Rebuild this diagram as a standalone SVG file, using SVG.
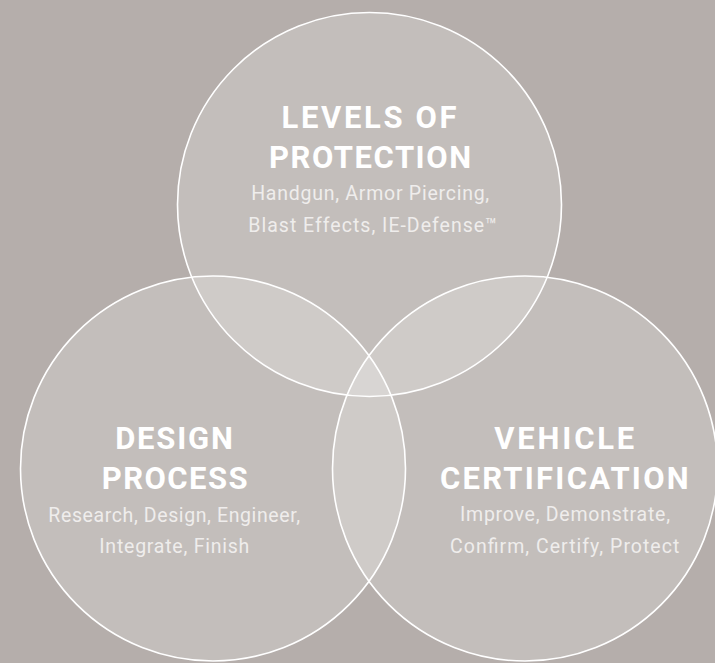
<svg xmlns="http://www.w3.org/2000/svg" width="715" height="663" viewBox="0 0 715 663">
<style>
.c{fill:#ffffff;fill-opacity:0.2;stroke:#ffffff;stroke-width:1.6}
.t{font-family:Roboto,"Liberation Sans",sans-serif;font-weight:bold;font-size:31px;fill:#ffffff;text-anchor:middle}
.s{font-family:Roboto,"Liberation Sans",sans-serif;font-weight:normal;font-size:19.5px;fill:#efedec;text-anchor:middle}
</style>
<rect x="0" y="0" width="715" height="663" fill="#b5aeab"/>
<g id="levels-of-protection">
<circle class="c" cx="369.5" cy="204.5" r="192"/>
<text class="t" x="369" y="128.3" textLength="175" lengthAdjust="spacing">LEVELS OF</text>
<text class="t" x="370" y="167.7" textLength="202" lengthAdjust="spacing">PROTECTION</text>
<text class="s" x="370.2" y="200" textLength="238" lengthAdjust="spacing">Handgun, Armor Piercing,</text>
<text class="s" x="372.8" y="231.5" textLength="249" lengthAdjust="spacing">Blast Effects, IE-Defense™</text>
</g>
<g id="design-process">
<circle class="c" cx="213" cy="468.5" r="192.5"/>
<text class="t" x="174" y="449" textLength="117.7" lengthAdjust="spacing">DESIGN</text>
<text class="t" x="174.7" y="489.3" textLength="146" lengthAdjust="spacing">PROCESS</text>
<text class="s" x="174.2" y="521.5" textLength="251.7" lengthAdjust="spacing">Research, Design, Engineer,</text>
<text class="s" x="174.3" y="553.3" textLength="150" lengthAdjust="spacing">Integrate, Finish</text>
</g>
<g id="vehicle-certification">
<circle class="c" cx="525" cy="468.5" r="192.5"/>
<text class="t" x="564.3" y="449" textLength="140" lengthAdjust="spacing">VEHICLE</text>
<text class="t" x="564.3" y="489.3" textLength="248.7" lengthAdjust="spacing">CERTIFICATION</text>
<text class="s" x="565" y="520.7" textLength="210" lengthAdjust="spacing">Improve, Demonstrate,</text>
<text class="s" x="564.7" y="553.3" textLength="229.3" lengthAdjust="spacing">Confirm, Certify, Protect</text>
</g>
<g id="connectors"></g>
</svg>
